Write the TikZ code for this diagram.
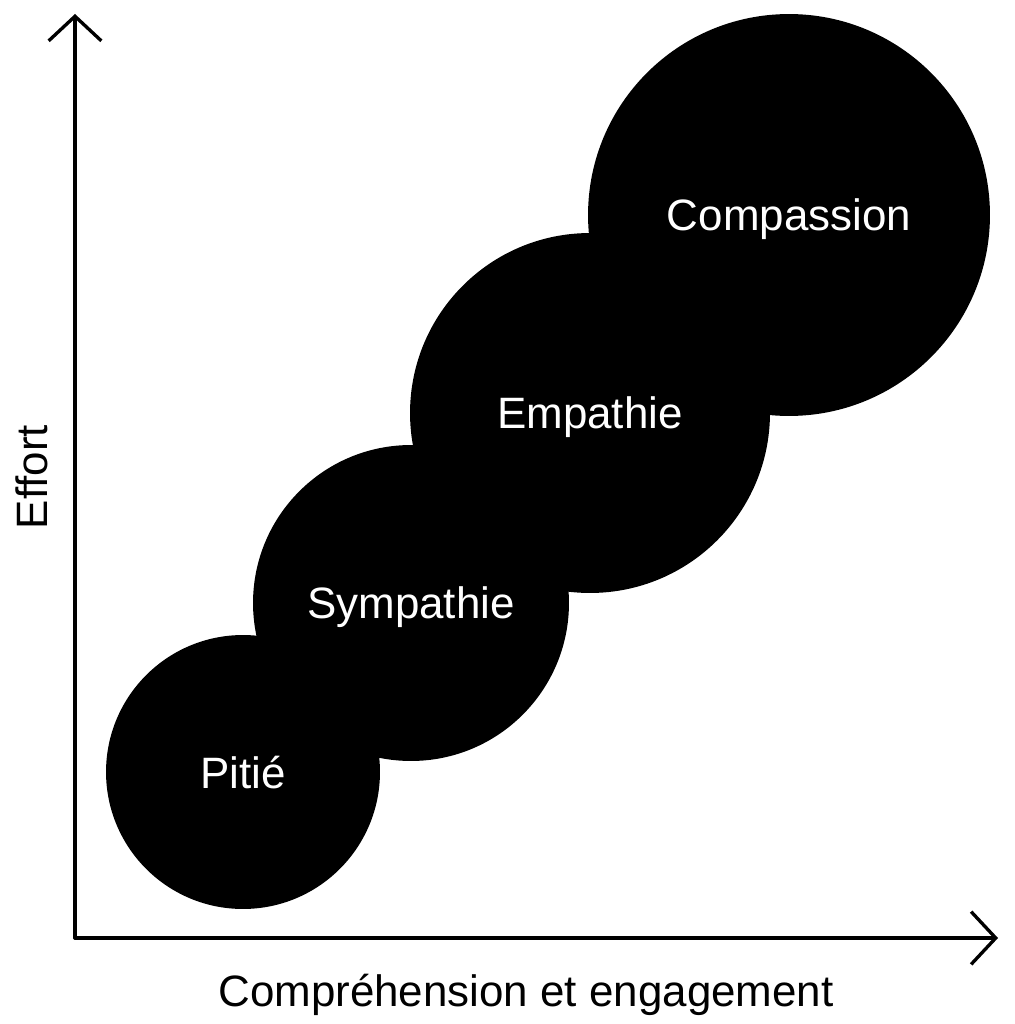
\documentclass[tikz,border=0pt]{standalone}
\usepackage{fontspec}
\setmainfont{Liberation Sans}
\usetikzlibrary{arrows.meta}
\begin{document}
\begin{tikzpicture}[x=0.02cm, y=-0.02cm, line width=1.9pt]
	\fontsize{25}{30}\selectfont
	\tikzstyle{stage}=[circle, fill=black, text=white, inner sep=0pt, text depth=0pt]
	\tikzstyle{axis}=[-{Straight Barb[length=14pt, width=30pt]}, line cap=round]
	\tikzstyle{title}=[text=black, inner sep=0pt]

	\useasboundingbox (0,0) rectangle (1014,1024);

	\coordinate (origin) at (75,938);
	\coordinate (ytop)   at (75,14);
	\coordinate (xend)   at (998,938);

	\draw[axis] (origin) -- (ytop);
	\draw[axis] (origin) -- (xend);

	\node[stage, minimum size=5.48cm] (pitie)      at (243,772) {Pitié};
	\node[stage, minimum size=6.32cm] (sympathie)  at (411,603) {Sympathie};
	\node[stage, minimum size=7.20cm] (empathie)   at (590,413) {Empathie};
	\node[stage, minimum size=8.04cm] (compassion) at (789,215) {Compassion};

	\node[title, rotate=90] (effort) at (32,477) {Effort};
	\node[title] (engagement) at (526,995) {Compréhension et engagement};
\end{tikzpicture}
\end{document}
